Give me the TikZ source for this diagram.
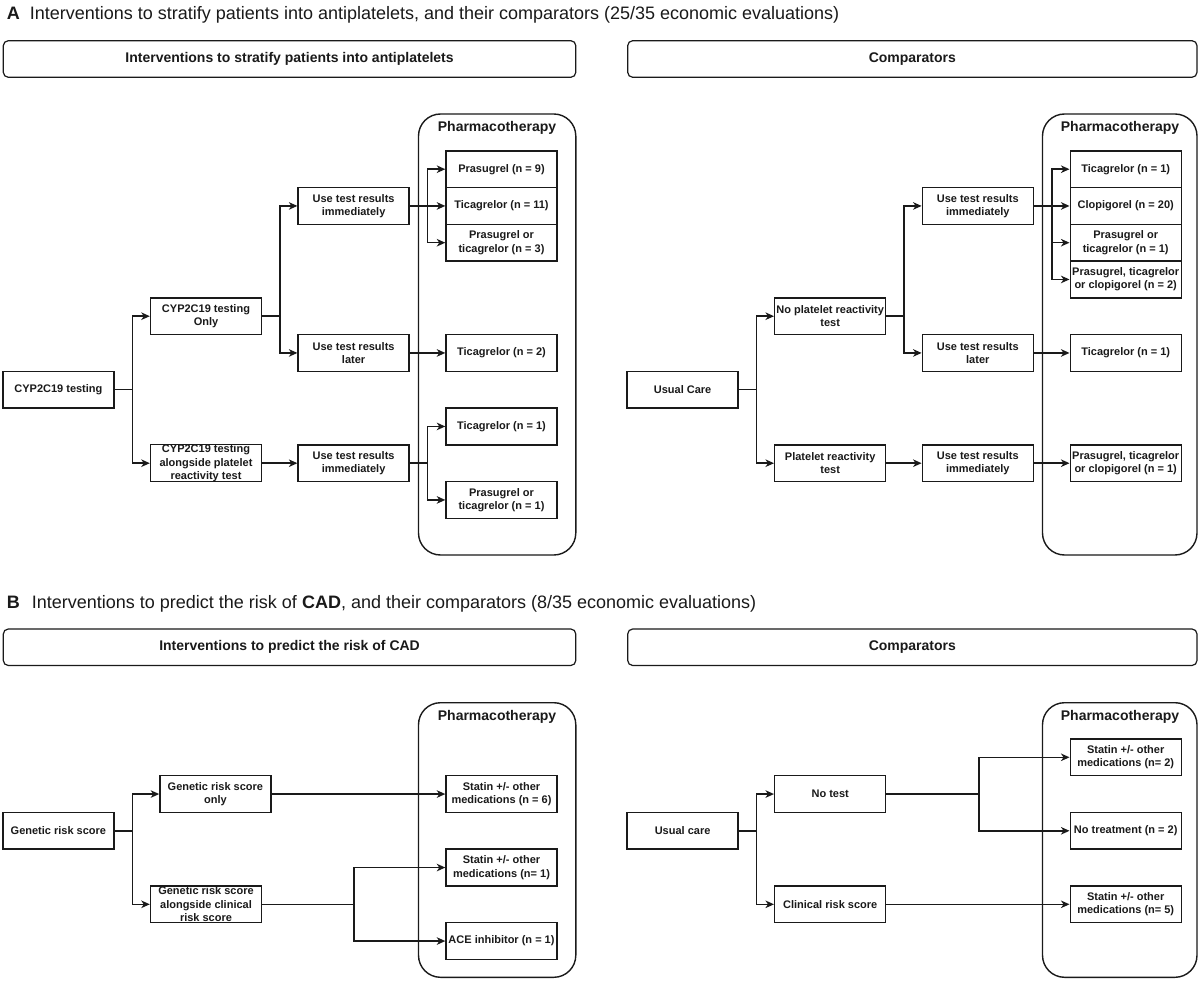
\documentclass[tikz,border=0pt]{standalone}
\usepackage{fontspec}
\setmainfont{Liberation Sans}
\usetikzlibrary{arrows.meta,calc}
\definecolor{ink}{HTML}{1A1A1A}
\begin{document}
\begin{tikzpicture}[x=1pt,y=-1pt,
  bx/.style={draw=ink,line width=1.4pt,minimum width=111pt,minimum height=36.75pt,inner sep=0pt,align=center,
    font=\bfseries\fontsize{11}{13.3}\selectfont,text=ink},
  hd/.style={draw=ink,line width=1.2pt,rounded corners=5pt,inner sep=0pt,font=\bfseries\fontsize{14}{16}\selectfont,text=ink},
  ctr/.style={draw=ink,line width=1.4pt,rounded corners=22pt},
  ctitle/.style={font=\bfseries\fontsize{14}{16}\selectfont,text=ink,inner sep=0pt},
  ttl/.style={anchor=base west,inner sep=0pt,font=\fontsize{18}{21}\selectfont,text=ink},
  ln/.style={draw=ink,line width=1.5pt},
  ar/.style={ln,-{Stealth[length=8.5pt,width=7.5pt,inset=2.5pt]}}
]
\useasboundingbox (0,0) rectangle (1200,981);
\fill[white] (0,0) rectangle (1200,981);

% ---------- Titles ----------
\node[ttl] (titleA) at (6.7,20) {\textbf{A}\hspace{10pt}Interventions to stratify patients into antiplatelets, and their comparators (25/35 economic evaluations)};
\node[ttl] (titleB) at (6.7,608) {\textbf{B}\hspace{12pt}Interventions to predict the risk of \textbf{CAD}, and their comparators (8/35 economic evaluations)};

% ---------- Header boxes ----------
\draw[hd] (3.3,40.7) rectangle (575.8,77.3) node[midway,draw=none] (hA1) {Interventions to stratify patients into antiplatelets};
\draw[hd] (627.7,40.7) rectangle (1197,77.3) node[midway,draw=none] (hA2) {Comparators};
\draw[hd] (3.3,629) rectangle (575.8,665.5) node[midway,draw=none] (hB1) {Interventions to predict the risk of CAD};
\draw[hd] (627.7,629) rectangle (1197,665.5) node[midway,draw=none] (hB2) {Comparators};

% ---------- Pharmacotherapy containers ----------
\draw[ctr] (418.5,114) rectangle (575.8,555);
\node[ctitle] (pA1) at (497,128) {Pharmacotherapy};
\draw[ctr] (1042.5,114) rectangle (1197,555);
\node[ctitle] (pA2) at (1120,128) {Pharmacotherapy};
\draw[ctr] (418.5,702.7) rectangle (575.8,977.3);
\node[ctitle] (pB1) at (497,716.7) {Pharmacotherapy};
\draw[ctr] (1042.5,702.7) rectangle (1197,977.3);
\node[ctitle] (pB2) at (1120,716.7) {Pharmacotherapy};

% ================= Panel A left =================
\node[bx] (cyp) at (58.4,389.7) {CYP2C19 testing};
\node[bx] (cyponly) at (206,316.2) {CYP2C19 testing\\Only};
\node[bx] (cypalong) at (206,463.2) {CYP2C19 testing\\alongside platelet\\reactivity test};
\node[bx] (uiA1) at (353.6,205.95) {Use test results\\immediately};
\node[bx] (ulA1) at (353.6,352.95) {Use test results\\later};
\node[bx] (uiA2) at (353.6,463.2) {Use test results\\immediately};
\node[bx] (dA1) at (501.5,169.2) {Prasugrel (n = 9)};
\node[bx] (dA2) at (501.5,205.95) {Ticagrelor (n = 11)};
\node[bx] (dA3) at (501.5,242.7) {Prasugrel or\\ticagrelor (n = 3)};
\node[bx] (dA4) at (501.5,352.95) {Ticagrelor (n = 2)};
\node[bx] (dA5) at (501.5,426.45) {Ticagrelor (n = 1)};
\node[bx] (dA6) at (501.5,499.95) {Prasugrel or\\ticagrelor (n = 1)};

\coordinate (jA1) at (132.3,389.7);
\coordinate (jA2) at (280,316.2);
\coordinate (jA3) at (427.7,205.95);
\coordinate (jA4) at (427.7,463.2);
\draw[ln] (cyp.east) -- (jA1);
\draw[ar] (jA1) |- (cyponly.west);
\draw[ar] (jA1) |- (cypalong.west);
\draw[ln] (cyponly.east) -- (jA2);
\draw[ar] (jA2) |- (uiA1.west);
\draw[ar] (jA2) |- (ulA1.west);
\draw[ar] (uiA1.east) -- (dA2.west);
\draw[ar] (jA3) |- (dA1.west);
\draw[ar] (jA3) |- (dA3.west);
\draw[ar] (ulA1.east) -- (dA4.west);
\draw[ar] (cypalong.east) -- (uiA2.west);
\draw[ln] (uiA2.east) -- (jA4);
\draw[ar] (jA4) |- (dA5.west);
\draw[ar] (jA4) |- (dA6.west);

% ================= Panel A right =================
\node[bx] (uc) at (682.6,389.7) {Usual Care};
\node[bx] (noprt) at (830.2,316.2) {No platelet reactivity\\test};
\node[bx] (prt) at (830.2,463.2) {Platelet reactivity\\test};
\node[bx] (uiC1) at (977.8,205.95) {Use test results\\immediately};
\node[bx] (ulC1) at (977.8,352.95) {Use test results\\later};
\node[bx] (uiC2) at (977.8,463.2) {Use test results\\immediately};
\node[bx] (dC1) at (1125.7,169.2) {Ticagrelor (n = 1)};
\node[bx] (dC2) at (1125.7,205.95) {Clopigorel (n = 20)};
\node[bx] (dC3) at (1125.7,242.7) {Prasugrel or\\ticagrelor (n = 1)};
\node[bx] (dC4) at (1125.7,279.45) {Prasugrel, ticagrelor\\or clopigorel (n = 2)};
\node[bx] (dC5) at (1125.7,352.95) {Ticagrelor (n = 1)};
\node[bx] (dC6) at (1125.7,463.2) {Prasugrel, ticagrelor\\or clopigorel (n = 1)};

\coordinate (jC1) at (756.5,389.7);
\coordinate (jC2) at (904.2,316.2);
\coordinate (jC3) at (1051.9,205.95);
\draw[ln] (uc.east) -- (jC1);
\draw[ar] (jC1) |- (noprt.west);
\draw[ar] (jC1) |- (prt.west);
\draw[ln] (noprt.east) -- (jC2);
\draw[ar] (jC2) |- (uiC1.west);
\draw[ar] (jC2) |- (ulC1.west);
\draw[ar] (uiC1.east) -- (dC2.west);
\draw[ar] (jC3) |- (dC1.west);
\draw[ar] (jC3) |- (dC3.west);
\draw[ar] (jC3) |- (dC4.west);
\draw[ar] (ulC1.east) -- (dC5.west);
\draw[ar] (prt.east) -- (uiC2.west);
\draw[ar] (uiC2.east) -- (dC6.west);

% ================= Panel B left =================
\node[bx] (grs) at (58.4,830.8) {Genetic risk score};
\node[bx] (grsonly) at (215.4,794.05) {Genetic risk score\\only};
\node[bx] (grsalong) at (206,904.3) {Genetic risk score\\alongside clinical\\risk score};
\node[bx] (sB1) at (501.5,794.05) {Statin +/- other\\medications (n = 6)};
\node[bx] (sB2) at (501.5,867.55) {Statin +/- other\\medications (n= 1)};
\node[bx] (aceB) at (501.5,941.05) {ACE inhibitor (n = 1)};

\coordinate (jB1) at (132.3,830.8);
\coordinate (jB2) at (353.8,904.3);
\draw[ln] (grs.east) -- (jB1);
\draw[ar] (jB1) |- (grsonly.west);
\draw[ar] (jB1) |- (grsalong.west);
\draw[ar] (grsonly.east) -- (sB1.west);
\draw[ln] (grsalong.east) -- (jB2);
\draw[ar] (jB2) |- (sB2.west);
\draw[ar] (jB2) |- (aceB.west);

% ================= Panel B right =================
\node[bx] (ucB) at (682.6,830.8) {Usual care};
\node[bx] (notest) at (830.2,794.05) {No test};
\node[bx] (crs) at (830.2,904.3) {Clinical risk score};
\node[bx] (sD1) at (1125.7,757.3) {Statin +/- other\\medications (n= 2)};
\node[bx] (ntD) at (1125.7,830.8) {No treatment (n = 2)};
\node[bx] (sD2) at (1125.7,904.3) {Statin +/- other\\medications (n= 5)};

\coordinate (jD1) at (756.5,830.8);
\coordinate (jD2) at (978.8,794.05);
\draw[ln] (ucB.east) -- (jD1);
\draw[ar] (jD1) |- (notest.west);
\draw[ar] (jD1) |- (crs.west);
\draw[ln] (notest.east) -- (jD2);
\draw[ar] (jD2) |- (sD1.west);
\draw[ar] (jD2) |- (ntD.west);
\draw[ar] (crs.east) -- (sD2.west);
\end{tikzpicture}
\end{document}
